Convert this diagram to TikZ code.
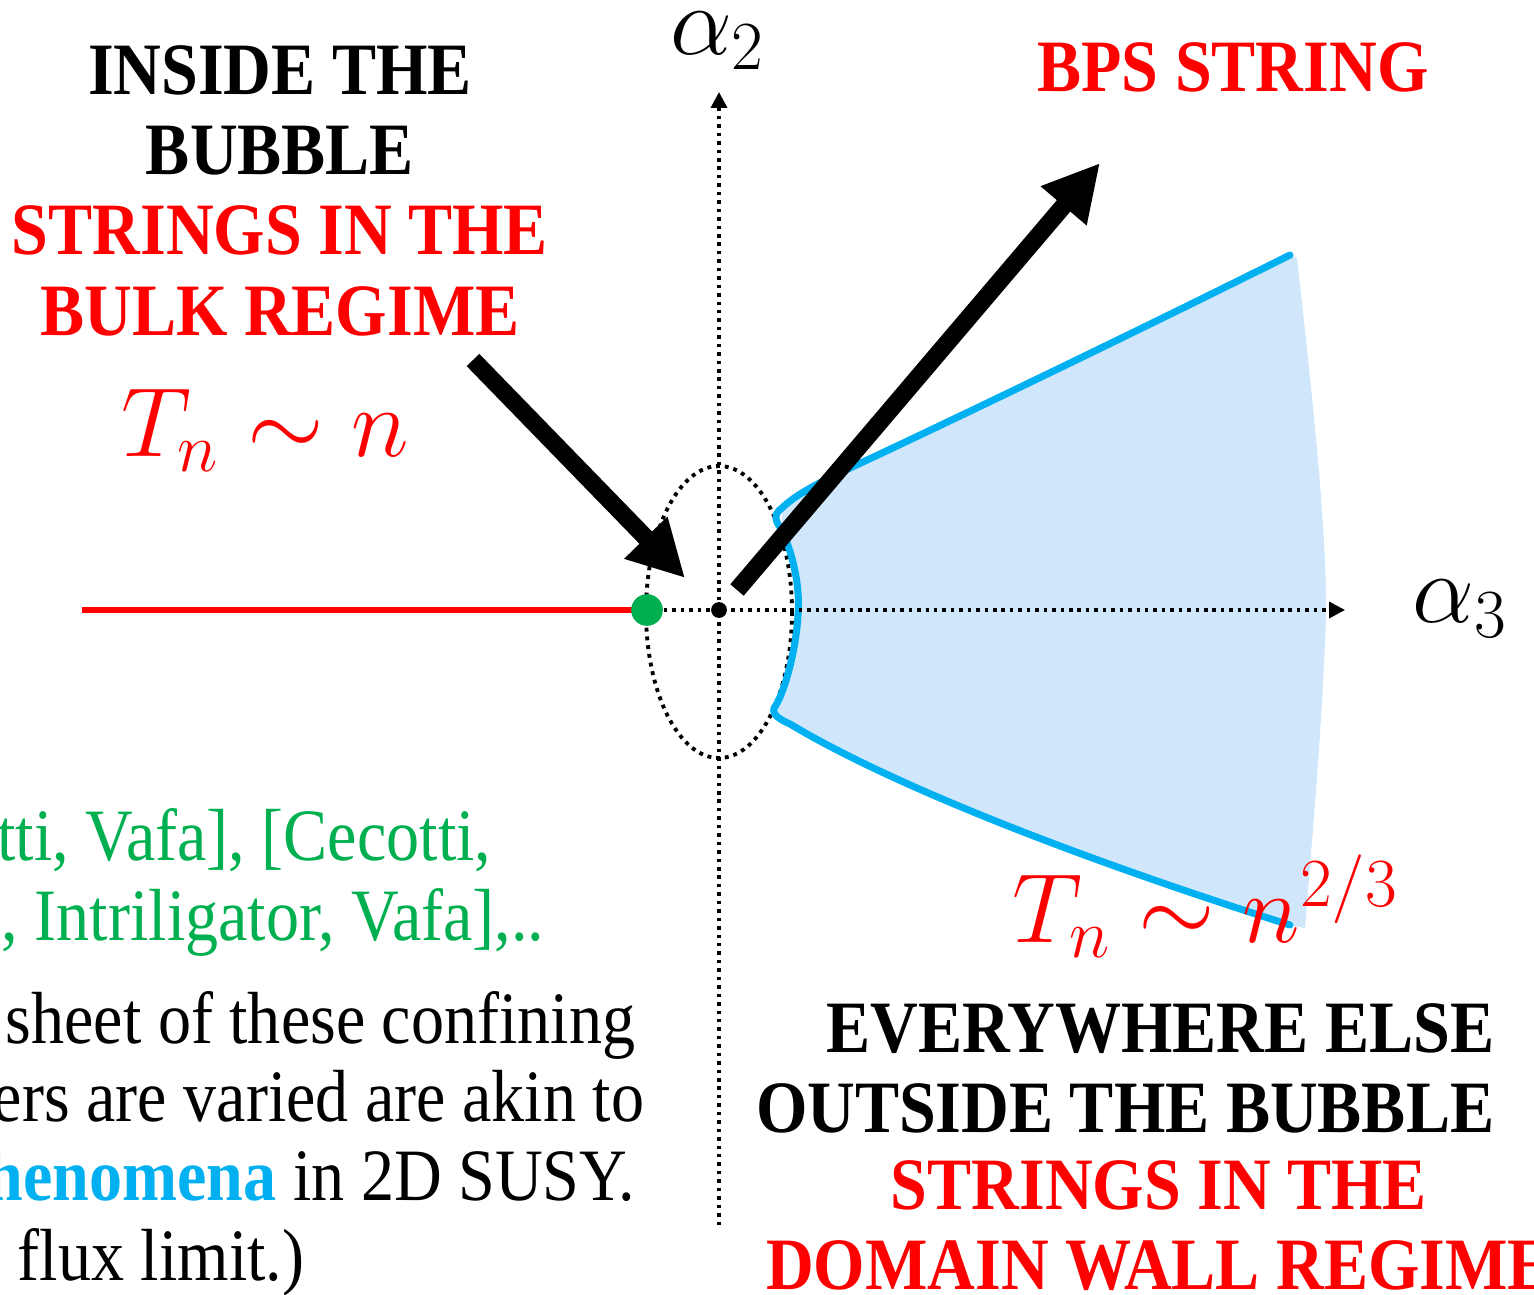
\RequirePackage{fix-cm}
\documentclass[tikz,border=0pt]{standalone}
\usepackage[no-math]{fontspec}
\newfontfamily\slidefont[FakeStretch=0.895]{Liberation Serif}
\usetikzlibrary{arrows.meta}
\definecolor{slidered}{RGB}{255,0,0}
\definecolor{slidegreen}{RGB}{0,176,80}
\definecolor{slidecyan}{RGB}{0,176,240}
\definecolor{wallblue}{RGB}{208,231,251}

\begin{document}
\begin{tikzpicture}[
    x=0.01cm, y=-0.01cm,
    head/.style={font=\slidefont\bfseries\fontsize{21}{22.8}\selectfont, inner sep=0pt, align=center},
    body/.style={font=\slidefont\fontsize{21}{22.8}\selectfont, inner sep=0pt, anchor=base east},
    lbl/.style={font=\fontsize{28}{30}\selectfont, inner sep=0pt},
    law/.style={font=\fontsize{28}{30}\selectfont, text=slidered, inner sep=0pt},
    axis/.style={line width=1pt, dash pattern=on 1pt off 1.4pt, -{Triangle[length=4.5pt,width=4.5pt]}},
    bubble/.style={line width=1.1pt, dash pattern=on 1.1pt off 1.4pt},
    bigarrow/.style={line width=5pt, -{Triangle[length=16pt,width=16pt]}},
    wall/.style={slidecyan, line width=2pt, line join=round, line cap=round},
    redline/.style={slidered, line width=1.5pt},
    dot/.style={circle, inner sep=0pt}
]
\useasboundingbox (0,0) rectangle (1534,1294);
\clip (0,0) rectangle (1534,1294);

% points of the sketch
\coordinate (origin) at (719,610);
\coordinate (vtop) at (719,92);
\coordinate (vbot) at (719,1225);
\coordinate (htip) at (1345,610);
\coordinate (green) at (647,610);
\coordinate (redend) at (82,610);
\coordinate (bubtail) at (473,360);
\coordinate (bubtip) at (685,578);
\coordinate (bpstail) at (737,590);
\coordinate (bpstip) at (1100,163);

% the bubble
\draw[bubble] (719,612) ellipse [x radius=73, y radius=146];

% domain wall region
\fill[wallblue] (782,508) .. controls (795,495) and (820,482) .. (850,468)
    .. controls (1000,398) and (1200,300) .. (1290,255) -- (1297,258)
    .. controls (1315,420) and (1330,560) .. (1325,640)
    .. controls (1320,760) and (1310,860) .. (1305,928) -- (1290,925)
    .. controls (1100,865) and (900,790) .. (790,724)
    .. controls (778,718) and (773,712) .. (776,705)
    .. controls (785,690) and (796,650) .. (798,615)
    .. controls (800,590) and (795,560) .. (782,530) -- cycle;
\draw[wall] (1290,255) .. controls (1200,300) and (1000,398) .. (850,468)
    .. controls (820,482) and (795,495) .. (782,508)
    .. controls (772,515) and (776,522) .. (782,530)
    .. controls (795,560) and (800,590) .. (798,615)
    .. controls (796,650) and (785,690) .. (776,705)
    .. controls (770,712) and (776,718) .. (790,724)
    .. controls (900,790) and (1100,865) .. (1290,925);

% axes
\draw[axis] (vbot) -- (vtop);
\draw[redline] (redend) -- (green);
\draw[axis] (green) -- (htip);
\node[dot, fill=slidegreen, minimum size=9pt] (gdot) at (green) {};
\node[dot, fill=black, minimum size=4.5pt] (odot) at (origin) {};
\node[lbl] (a2) at (718,41) {$\alpha_2$};
\node[lbl] (a3) at (1460,609) {$\alpha_3$};

% arrows
\draw[bigarrow] (bubtail) -- (bubtip);
\draw[bigarrow] (bpstail) -- (bpstip);

% labels
\node[head, anchor=north] (inside) at (280,45) {INSIDE THE\\ BUBBLE\\ \textcolor{slidered}{STRINGS IN THE}\\ \textcolor{slidered}{BULK REGIME}};
\node[head, text=slidered, anchor=north] (bps) at (1233,42) {BPS STRING};
\node[law] (bulklaw) at (265,430) {$T_n\sim n$};
\node[law] (walllaw) at (1206,906) {$T_n\sim n^{2/3}$};
\node[head, align=right, anchor=north east] (outside) at (1495,1003) {EVERYWHERE ELSE\\ OUTSIDE THE BUBBLE};
\node[head, text=slidered, anchor=north] (domain) at (1159,1160) {STRINGS IN THE\\ DOMAIN WALL REGIME};

% text cut by the frame
\node[body, text=slidegreen] (cite1) at (492,860) {tti, Vafa], [Cecotti,};
\node[body, text=slidegreen] (cite2) at (545,940) {, Intriligator, Vafa],..};
\node[body] (txt1) at (636,1043) {sheet of these confining};
\node[body] (txt2) at (645,1121) {ers are varied are akin to};
\node[body] (txt3) at (636,1200) {\textcolor{slidecyan}{\bfseries henomena} in 2D SUSY.};
\node[body] (txt4) at (305,1280) {flux limit.)};
\end{tikzpicture}
\end{document}
